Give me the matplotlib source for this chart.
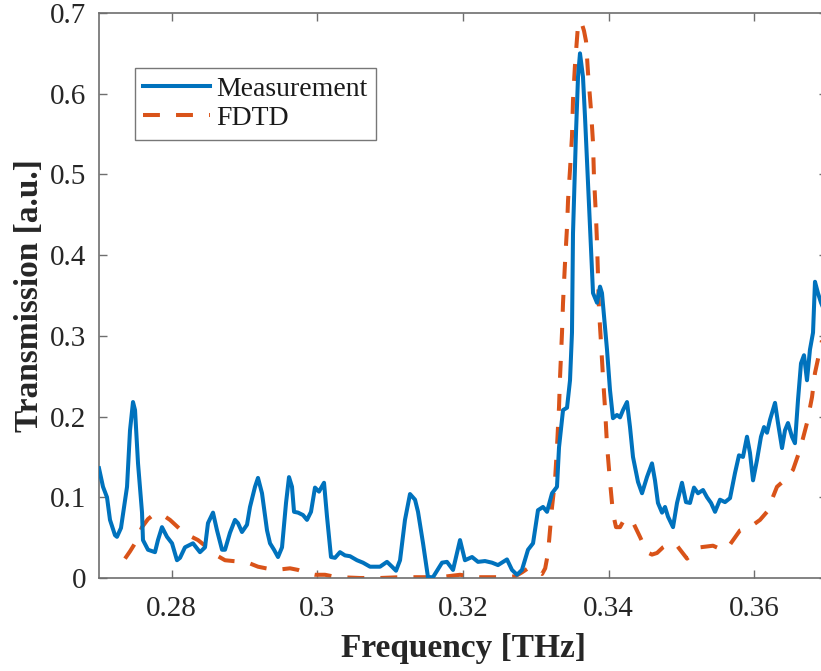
import matplotlib
matplotlib.use("Agg")
import matplotlib.pyplot as plt

# ---------------- data ----------------
meas_freq = [0.27000, 0.27055, 0.27110, 0.27151, 0.27220, 0.27247, 0.27302, 0.27385, 0.27426, 0.27467,
             0.27495, 0.27536, 0.27591, 0.27604, 0.27673, 0.27769, 0.27810, 0.27865, 0.27934, 0.28003,
             0.28071, 0.28113, 0.28181, 0.28291, 0.28387, 0.28456, 0.28497, 0.28566, 0.28621, 0.28690,
             0.28731, 0.28799, 0.28868, 0.28909, 0.28964, 0.29033, 0.29074, 0.29143, 0.29184, 0.29239,
             0.29308, 0.29349, 0.29404, 0.29459, 0.29514, 0.29569, 0.29610, 0.29651, 0.29679, 0.29734,
             0.29802, 0.29857, 0.29912, 0.29967, 0.30022, 0.30091, 0.30132, 0.30187, 0.30242, 0.30310,
             0.30379, 0.30448, 0.30544, 0.30626, 0.30723, 0.30860, 0.30956, 0.31025, 0.31080, 0.31135,
             0.31203, 0.31272, 0.31341, 0.31382, 0.31451, 0.31519, 0.31588, 0.31712, 0.31780, 0.31863,
             0.31959, 0.32027, 0.32124, 0.32206, 0.32302, 0.32398, 0.32481, 0.32604, 0.32673, 0.32742,
             0.32810, 0.32893, 0.32962, 0.33030, 0.33099, 0.33154, 0.33223, 0.33291, 0.33319, 0.33374,
             0.33429, 0.33470, 0.33497, 0.33511, 0.33552, 0.33580, 0.33607, 0.33648, 0.33676, 0.33717,
             0.33758, 0.33786, 0.33841, 0.33882, 0.33909, 0.33937, 0.33964, 0.33978, 0.34019, 0.34060,
             0.34115, 0.34157, 0.34198, 0.34253, 0.34294, 0.34335, 0.34404, 0.34459, 0.34527, 0.34596,
             0.34637, 0.34678, 0.34734, 0.34775, 0.34816, 0.34885, 0.34940, 0.35008, 0.35063, 0.35118,
             0.35173, 0.35228, 0.35297, 0.35352, 0.35407, 0.35462, 0.35530, 0.35599, 0.35668, 0.35736,
             0.35791, 0.35846, 0.35901, 0.35942, 0.35984, 0.36038, 0.36093, 0.36135, 0.36176, 0.36217,
             0.36286, 0.36327, 0.36382, 0.36423, 0.36464, 0.36519, 0.36560, 0.36602, 0.36643, 0.36684,
             0.36725, 0.36766, 0.36808, 0.36835, 0.36876, 0.36918, 0.36970]
meas_trans = [0.136, 0.113, 0.100, 0.072, 0.053, 0.051, 0.062, 0.113, 0.183, 0.218,
              0.208, 0.142, 0.081, 0.047, 0.035, 0.032, 0.047, 0.063, 0.051, 0.043,
              0.022, 0.025, 0.038, 0.043, 0.032, 0.038, 0.068, 0.081, 0.059, 0.035,
              0.035, 0.056, 0.072, 0.068, 0.057, 0.066, 0.088, 0.113, 0.124, 0.105,
              0.059, 0.043, 0.035, 0.026, 0.038, 0.093, 0.125, 0.113, 0.082, 0.081,
              0.078, 0.072, 0.082, 0.112, 0.107, 0.118, 0.076, 0.026, 0.025, 0.032,
              0.028, 0.027, 0.022, 0.019, 0.014, 0.014, 0.020, 0.014, 0.009, 0.022,
              0.072, 0.104, 0.097, 0.082, 0.043, 0.001, 0.001, 0.019, 0.020, 0.010,
              0.047, 0.022, 0.026, 0.020, 0.021, 0.019, 0.016, 0.023, 0.010, 0.004,
              0.010, 0.035, 0.043, 0.084, 0.088, 0.082, 0.105, 0.113, 0.162, 0.208,
              0.211, 0.245, 0.304, 0.427, 0.551, 0.621, 0.650, 0.621, 0.571, 0.489,
              0.406, 0.353, 0.341, 0.361, 0.353, 0.324, 0.295, 0.283, 0.233, 0.198,
              0.202, 0.199, 0.208, 0.218, 0.187, 0.150, 0.119, 0.105, 0.125, 0.142,
              0.121, 0.093, 0.081, 0.088, 0.076, 0.063, 0.093, 0.118, 0.094, 0.093,
              0.112, 0.105, 0.109, 0.100, 0.093, 0.082, 0.097, 0.094, 0.099, 0.130,
              0.152, 0.150, 0.175, 0.155, 0.121, 0.146, 0.175, 0.187, 0.180, 0.196,
              0.217, 0.192, 0.161, 0.183, 0.192, 0.175, 0.167, 0.221, 0.266, 0.276,
              0.245, 0.283, 0.304, 0.367, 0.353, 0.341, 0.330]

fdtd_freq = [0.27357, 0.27426, 0.27495, 0.27591, 0.27673, 0.27742, 0.27810, 0.27893, 0.27975, 0.28071,
             0.28154, 0.28250, 0.28360, 0.28442, 0.28525, 0.28635, 0.28731, 0.28841, 0.28964, 0.29074,
             0.29184, 0.29294, 0.29418, 0.29527, 0.29624, 0.29734, 0.29857, 0.29967, 0.30104, 0.30214,
             0.30310, 0.30585, 0.30860, 0.31135, 0.31409, 0.31684, 0.31959, 0.32096, 0.32234, 0.32508,
             0.32714, 0.32810, 0.32893, 0.32989, 0.33087, 0.33129, 0.33168, 0.33223, 0.33264, 0.33291,
             0.33319, 0.33333, 0.33360, 0.33374, 0.33401, 0.33429, 0.33443, 0.33470, 0.33497, 0.33511,
             0.33538, 0.33580, 0.33621, 0.33662, 0.33690, 0.33717, 0.33758, 0.33786, 0.33799, 0.33827,
             0.33841, 0.33855, 0.33868, 0.33896, 0.33923, 0.33951, 0.33978, 0.34019, 0.34060, 0.34102,
             0.34157, 0.34212, 0.34266, 0.34335, 0.34431, 0.34527, 0.34596, 0.34665, 0.34747, 0.34843,
             0.34940, 0.35008, 0.35077, 0.35159, 0.35255, 0.35434, 0.35558, 0.35640, 0.35805, 0.35942,
             0.36080, 0.36176, 0.36313, 0.36451, 0.36533, 0.36629, 0.36725, 0.36794, 0.36835, 0.36904,
             0.36970]
fdtd_trans = [0.024, 0.033, 0.043, 0.063, 0.073, 0.078, 0.079, 0.077, 0.072, 0.064,
              0.057, 0.052, 0.047, 0.041, 0.035, 0.027, 0.022, 0.021, 0.020, 0.018,
              0.014, 0.012, 0.010, 0.011, 0.012, 0.010, 0.006, 0.004, 0.004, 0.002,
              0.001, 0.000, 0.000, 0.001, 0.001, 0.001, 0.004, 0.002, 0.001, 0.001,
              0.002, 0.007, 0.012, 0.010, 0.005, 0.012, 0.031, 0.088, 0.121, 0.162,
              0.212, 0.249, 0.304, 0.341, 0.390, 0.435, 0.468, 0.506, 0.547, 0.592,
              0.635, 0.685, 0.690, 0.678, 0.665, 0.626, 0.580, 0.539, 0.497, 0.447,
              0.415, 0.373, 0.332, 0.291, 0.249, 0.210, 0.165, 0.120, 0.080, 0.063,
              0.063, 0.072, 0.074, 0.069, 0.051, 0.032, 0.029, 0.031, 0.038, 0.043,
              0.040, 0.032, 0.024, 0.030, 0.038, 0.040, 0.035, 0.038, 0.059, 0.063,
              0.072, 0.082, 0.113, 0.124, 0.134, 0.159, 0.192, 0.224, 0.254, 0.283,
              0.310]

x_ticks = [0.28, 0.30, 0.32, 0.34, 0.36]
x_ticklabels = ["0.28", "0.3", "0.32", "0.34", "0.36"]
y_ticks = [0, 0.1, 0.2, 0.3, 0.4, 0.5, 0.6, 0.7]
y_ticklabels = ["0", "0.1", "0.2", "0.3", "0.4", "0.5", "0.6", "0.7"]

# ---------------- figure ----------------
plt.rcParams['font.family'] = ['Liberation Serif', 'DejaVu Serif']

W, H = 821, 671
fig = plt.figure(figsize=(W / 100, H / 100), dpi=100)
left_px, right_px, top_px, bottom_px = 99, 827, 13, 578
ax = fig.add_axes([left_px / W, 1 - bottom_px / H,
                   (right_px - left_px) / W, (bottom_px - top_px) / H])

blue = '#0072BD'
orange = '#D95319'
ax.plot(meas_freq, meas_trans, color=blue, lw=2.9, label='Measurement',
        solid_joinstyle='round', zorder=3)
ax.plot(fdtd_freq, fdtd_trans, color=orange, lw=2.9, linestyle=(0, (4.2, 4.0)),
        label='FDTD', dash_capstyle='butt', zorder=2)

ax.set_xlim(0.27, 0.37)
ax.set_ylim(0, 0.7)
ax.set_xticks(x_ticks)
ax.set_xticklabels(x_ticklabels)
ax.set_yticks(y_ticks)
ax.set_yticklabels(y_ticklabels)

spine_color = '#6e6e6e'
for s in ax.spines.values():
    s.set_color(spine_color)
    s.set_linewidth(1.2)
ax.tick_params(direction='in', length=6, width=1.0, color=spine_color,
               labelcolor='#262626', labelsize=21, top=True, right=True, pad=9)
ax.tick_params(axis='x', pad=13)

ax.set_xlabel('Frequency [THz]', fontsize=24, fontweight='bold', color='#262626', labelpad=8)
ax.set_ylabel('Transmission [a.u.]', fontsize=24, fontweight='bold', color='#262626', labelpad=4)

leg = ax.legend(loc='upper left', bbox_to_anchor=(0.049, 0.903), borderaxespad=0,
                fontsize=20, frameon=True, fancybox=False, shadow=False,
                handlelength=2.4, handletextpad=0.25, borderpad=0.3, labelspacing=0.15,
                edgecolor='#555555')
leg.get_frame().set_linewidth(1.0)
for t in leg.get_texts():
    t.set_color('#1a1a1a')

fig.savefig('out.png', dpi=100)
